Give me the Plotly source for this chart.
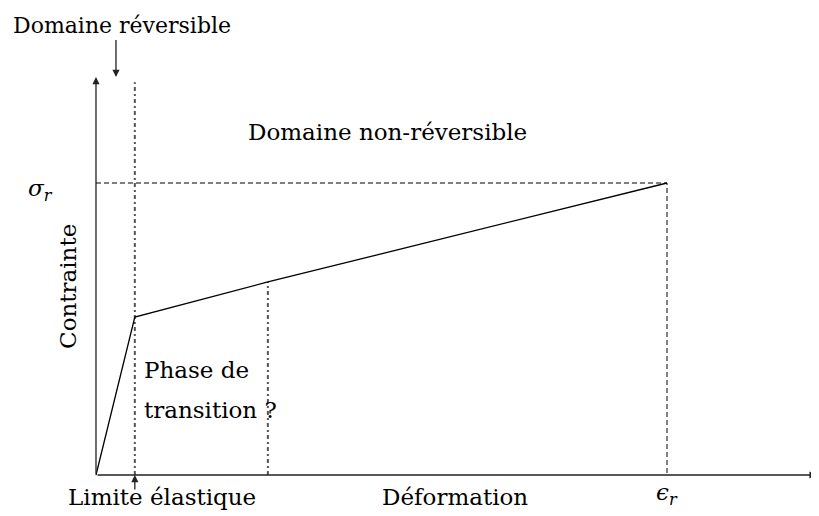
import plotly.graph_objects as go

# loi de comportement (unités arbitraires, rupture = 1)
strain = [0.0, 0.068, 0.301, 1.0]
stress = [0.0, 0.541, 0.661, 1.0]
eps_e, sig_e = strain[1], stress[1]
eps_t, sig_t = strain[2], stress[2]
eps_r, sig_r = strain[3], stress[3]

x_end = 1.262
y_end = 1.363

font = dict(family="DejaVu Serif", size=23, color="black")

fig = go.Figure()

# limite élastique (pointillé gris)
fig.add_trace(go.Scatter(x=[eps_e, eps_e], y=[0, 1.345], mode="lines",
                         line=dict(color="#555", width=2, dash="4px,3px,2px,3px")))
# fin de la phase de transition
fig.add_trace(go.Scatter(x=[eps_t, eps_t], y=[0, sig_t], mode="lines",
                         line=dict(color="#555", width=2, dash="4px,3px,2px,3px")))
# repères de rupture
fig.add_trace(go.Scatter(x=[0, eps_r, eps_r], y=[sig_r, sig_r, 0], mode="lines",
                         line=dict(color="black", width=1, dash="5px,3px")))
# courbe contrainte-déformation
fig.add_trace(go.Scatter(x=strain, y=stress, mode="lines",
                         line=dict(color="black", width=1.3)))

arrow = dict(xref="x", yref="y", axref="x", ayref="y", text="", showarrow=True,
             arrowhead=2, arrowsize=1.1, arrowwidth=1.3, arrowcolor="#222")
# axes
fig.add_annotation(x=x_end, y=0, ax=0, ay=0, **arrow)
fig.add_annotation(x=0, y=y_end, ax=0, ay=0, **arrow)
# flèches des légendes
fig.add_annotation(x=0.035, y=y_end, ax=0.035, ay=1.495, **arrow)
fig.add_annotation(x=eps_e, y=0, ax=eps_e, ay=-0.055, **arrow)

labels = [
    ("Domaine réversible", 0.046, 1.538, "center", 0, 22),
    ("Domaine non-réversible", 0.5105, 1.175, "center", 0, 23),
    ("Contrainte", -0.049, 0.644, "center", -90, 23),
    ("<i>σ</i><sub><i>r</i></sub>", -0.098, 0.976, "center", 0, 23),
    ("Phase de", 0.081, 0.36, "left", 0, 23),
    ("transition ?", 0.081, 0.223, "left", 0, 23),
    ("Limite élastique", 0.116, -0.075, "center", 0, 23),
    ("Déformation", 0.629, -0.075, "center", 0, 23),
    ("<i>ϵ</i><sub><i>r</i></sub>", eps_r, -0.066, "center", 0, 23),
]
for txt, x, y, anchor, ang, size in labels:
    fig.add_annotation(x=x, y=y, text=txt, showarrow=False, xanchor=anchor,
                       yanchor="middle", textangle=ang, font=dict(font, size=size))

fig.update_layout(
    width=819, height=516,
    margin=dict(l=0, r=0, t=0, b=0),
    plot_bgcolor="white", paper_bgcolor="white",
    showlegend=False,
    xaxis=dict(range=[-0.1541, 1.2802], visible=False),
    yaxis=dict(range=[-0.1678, 1.5993], visible=False),
)

fig.write_html("out.html")
